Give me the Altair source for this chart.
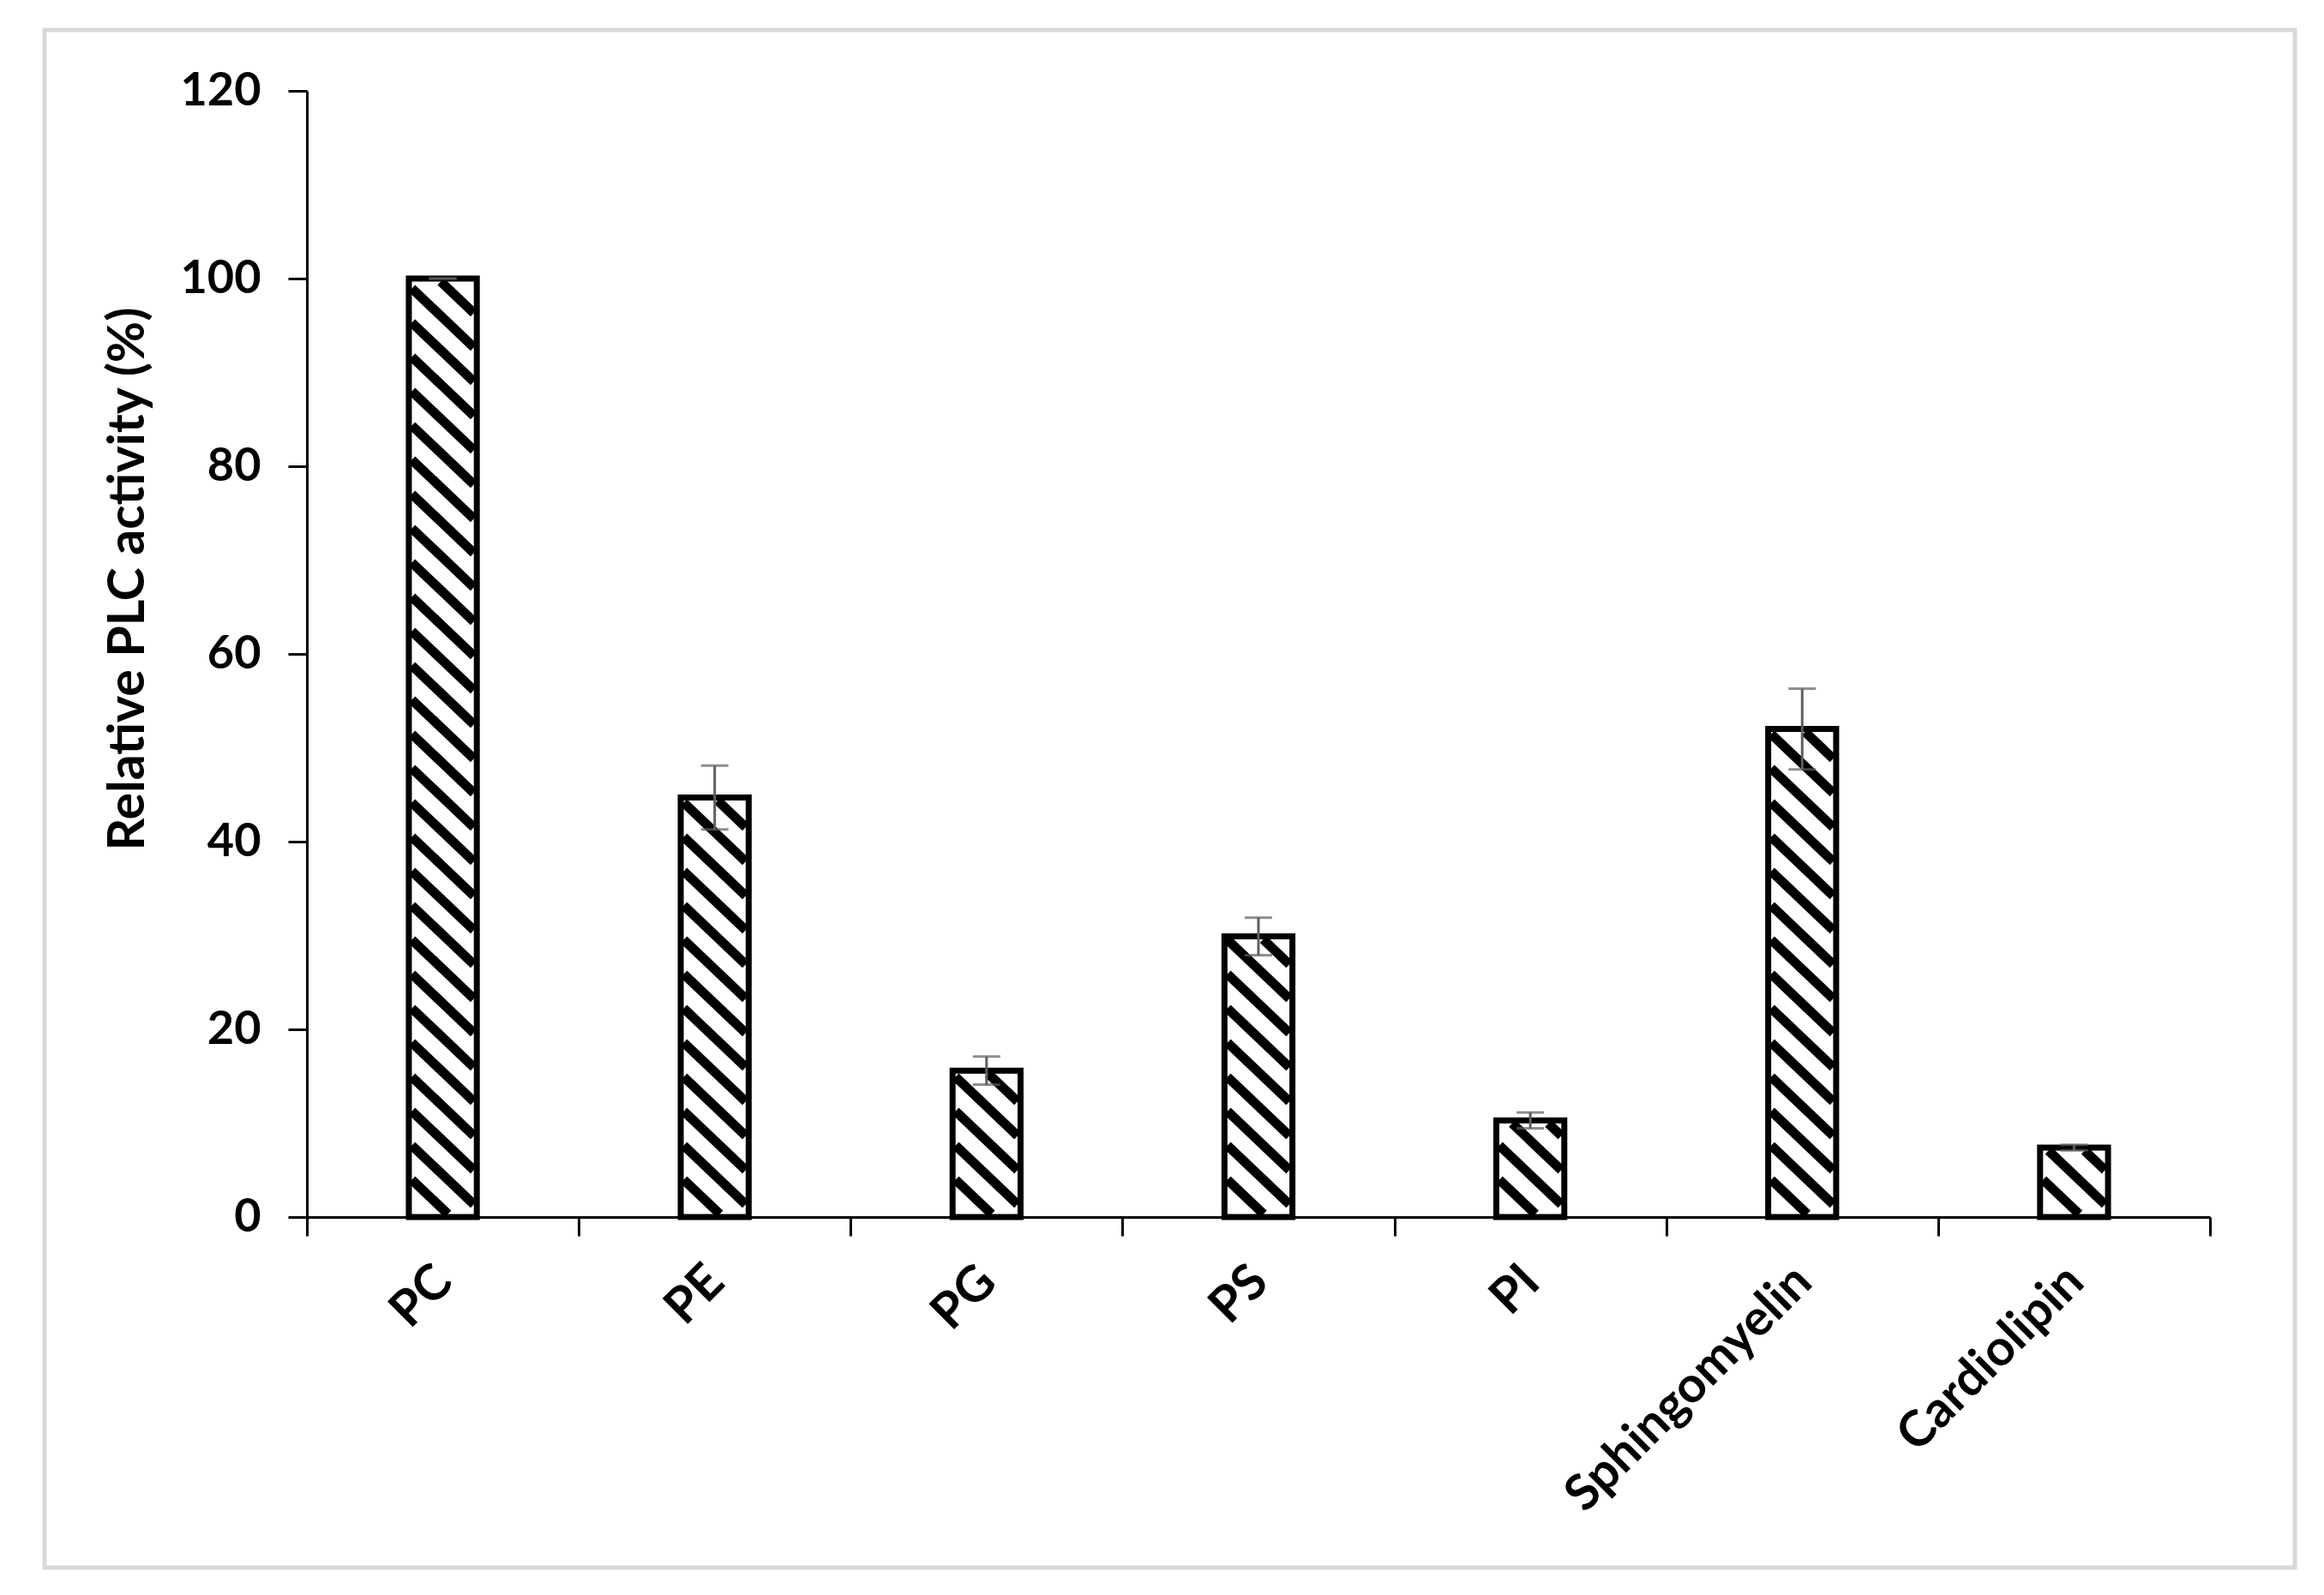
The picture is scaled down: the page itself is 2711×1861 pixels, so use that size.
import altair as alt
import pandas as pd

# ---- data ----
categories = ["PC", "PE", "PG", "PS", "PI", "Sphingomyelin", "Cardiolipin"]
activity = [100.0, 44.7, 15.6, 29.9, 10.3, 52.0, 7.4]
error = [0.0, 3.4, 1.5, 2.0, 0.85, 4.3, 0.3]
y_ticks = [0, 20, 40, 60, 80, 100, 120]
y_title = "Relative PLC activity (%)"

# ---- layout / style constants ----
W, H = 2220, 1314
YMAX = 120
N = len(categories)
BAR_FRAC = 0.25
FONT = "Lato"
PERIOD = 40.0      # vertical spacing of hatch stripes (px)
SLOPE = 0.95       # hatch slope (screen px down per px right)
INSET = 3.5
HATCH_W = 11
ERR_COLOR = "#5e5e5e"

idx = list(range(N))
bars = pd.DataFrame({"cat": categories, "i": idx, "value": activity, "err": error})
bars["x0"] = bars["i"] + 0.5 - BAR_FRAC / 2
bars["x1"] = bars["i"] + 0.5 + BAR_FRAC / 2
bars["xc"] = bars["i"] + 0.5
bars["base"] = 0.0
bars["lo"] = bars["value"] - bars["err"]
bars["hi"] = bars["value"] + bars["err"]

# hatch segments derived from the bar values
px_x = W / N
px_y = H / YMAX
rows = []
for i, v in zip(idx, activity):
    xl = (i + 0.5 - BAR_FRAC / 2) * px_x + INSET
    xr = (i + 0.5 + BAR_FRAC / 2) * px_x - INSET
    ytop = H - v * px_y + INSET
    ybot = H - INSET
    w = xr - xl
    k = 0
    while True:
        c = ybot - k * PERIOD
        if c + SLOPE * w <= ytop:
            break
        xs = max(0.0, (ytop - c) / SLOPE)
        xe = min(w, (ybot - c) / SLOPE)
        if xe > xs:
            y_s = c + SLOPE * xs
            y_e = c + SLOPE * xe
            rows.append({
                "hx0": (xl + xs) / px_x, "hx1": (xl + xe) / px_x,
                "hy0": (H - y_s) / px_y, "hy1": (H - y_e) / px_y,
            })
        k += 1
hatch = pd.DataFrame(rows)

xscale = alt.Scale(domain=[0, N], nice=False, zero=False)
yscale = alt.Scale(domain=[0, YMAX], nice=False)

xaxis = alt.Axis(values=list(range(N + 1)), labels=False, title=None, grid=False,
                 tickSize=22, tickWidth=3, tickColor="black",
                 domainWidth=3, domainColor="black")
yaxis = alt.Axis(values=y_ticks, grid=False, tickSize=22, tickWidth=3, tickColor="black",
                 domainWidth=3, domainColor="black",
                 labelFont=FONT, labelFontSize=54, labelFontWeight="bold", labelColor="black",
                 labelPadding=32,
                 title=y_title, titleFont=FONT, titleFontSize=59, titleFontWeight="bold",
                 titleColor="black", titleAngle=270, titleAlign="left",
                 titleBaseline="alphabetic", titleX=-191, titleY=886)


def X(field):
    return alt.X(field, type="quantitative", scale=xscale, axis=xaxis, title=None)


def Y(field):
    return alt.Y(field, type="quantitative", scale=yscale, axis=yaxis, title=y_title)


frame = alt.Chart(pd.DataFrame({"k": [0]})).mark_rect(
    fillOpacity=0, stroke="#d9d9d9", strokeWidth=5
).encode(x=alt.value(-306), x2=alt.value(2319), y=alt.value(-71), y2=alt.value(1723))

base = alt.Chart(bars)

bar_fill = base.mark_rect(fill="white").encode(
    x=X("x0"), x2="x1:Q", y=Y("value"), y2="base:Q",
)

hatch_layer = alt.Chart(hatch).mark_rule(color="black", strokeWidth=HATCH_W, strokeCap="butt").encode(
    x=X("hx0"), x2="hx1:Q", y=Y("hy0"), y2="hy1:Q",
)

bar_outline = base.mark_rect(fillOpacity=0, stroke="black", strokeWidth=7).encode(
    x=X("x0"), x2="x1:Q", y=Y("value"), y2="base:Q",
)

err_line = base.mark_rule(color=ERR_COLOR, strokeWidth=3).encode(
    x=X("xc"), y=Y("lo"), y2="hi:Q",
)
cap_hi = base.mark_tick(orient="horizontal", size=32, thickness=3, color=ERR_COLOR).encode(
    x=X("xc"), y=Y("hi"),
)
cap_lo = base.mark_tick(orient="horizontal", size=32, thickness=3, color=ERR_COLOR).encode(
    x=X("xc"), y=Y("lo"),
)

labels = base.mark_text(angle=315, align="right", baseline="top", font=FONT, fontSize=58,
                        fontWeight="bold", color="black", dx=-2, dy=-24).encode(
    x=X("xc"),
    y=alt.value(H + 62),
    text="cat:N",
)

chart = alt.layer(frame, bar_fill, hatch_layer, bar_outline, err_line, cap_hi, cap_lo, labels).properties(
    width=W, height=H,
    autosize=alt.AutoSizeParams(type="none"),
    padding={"left": 350, "top": 98, "right": 120, "bottom": 430},
    background="white",
).configure_view(stroke=None)

chart.save("out.html", embed_options={"renderer": "svg", "actions": False})
